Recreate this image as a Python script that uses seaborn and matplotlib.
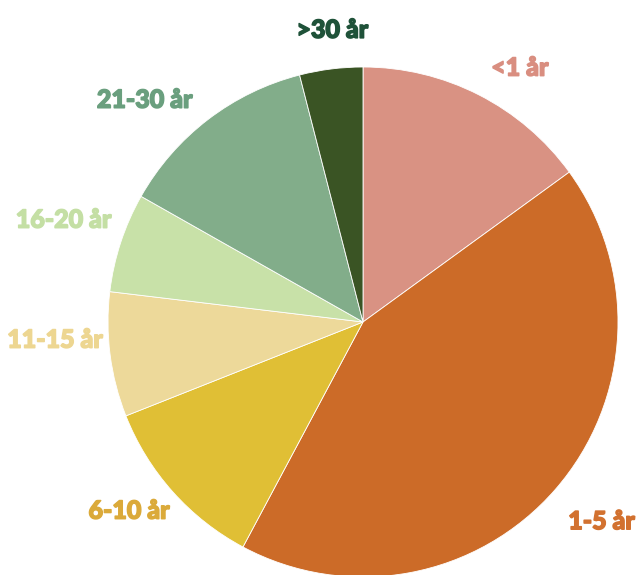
import matplotlib
matplotlib.use("Agg")
import matplotlib.pyplot as plt
import matplotlib.patheffects as pe
import seaborn as sns
import numpy as np

# Data (percent share per group)
categories = ['<1 år', '1-5 år', '6-10 år', '11-15 år', '16-20 år', '21-30 år', '>30 år']
shares = [15.0, 42.8, 11.2, 7.9, 6.3, 12.8, 4.0]
slice_colors = ['#D99283', '#CC6B28', '#E0BF35', '#EDD99A', '#C8E1A8', '#82AD8A', '#3A5424']
label_colors = ['#D98E80', '#D2712F', '#DBAA3A', '#EDD691', '#C4DFA4', '#6A9F7E', '#1F5239']

# label placement tweaks (radius as fraction of pie radius, angle nudge in degrees clockwise)
label_radius = [1.17, 1.22, 1.18, 1.21, 1.24, 1.22, 1.15]
label_nudge = [4.7, -1.1, 2.8, 4.0, 0.6, -7.1, 1.2]

sns.set_theme(style="white")
plt.rcParams['font.family'] = ['Lato', 'DejaVu Sans']

fig = plt.figure(figsize=(6.37, 5.75), dpi=100)
ax = fig.add_axes([108 / 637, -2 / 575, 510 / 637, 510 / 575])

wedges, _ = ax.pie(shares, colors=slice_colors,
                   startangle=90, counterclock=False,
                   wedgeprops=dict(edgecolor='white', linewidth=0.6))

for w, name, c, r, d in zip(wedges, categories, label_colors, label_radius, label_nudge):
    ang = np.deg2rad((w.theta1 + w.theta2) / 2 - d)
    ax.text(r * np.cos(ang), r * np.sin(ang), name, color=c,
            ha='center', va='center', fontsize=18, fontweight='black',
            clip_on=False,
            path_effects=[pe.withStroke(linewidth=1.1, foreground=c)])

ax.set_xlim(-1, 1)
ax.set_ylim(-1, 1)
ax.set_aspect('auto')

fig.savefig('out.png', dpi=100)
